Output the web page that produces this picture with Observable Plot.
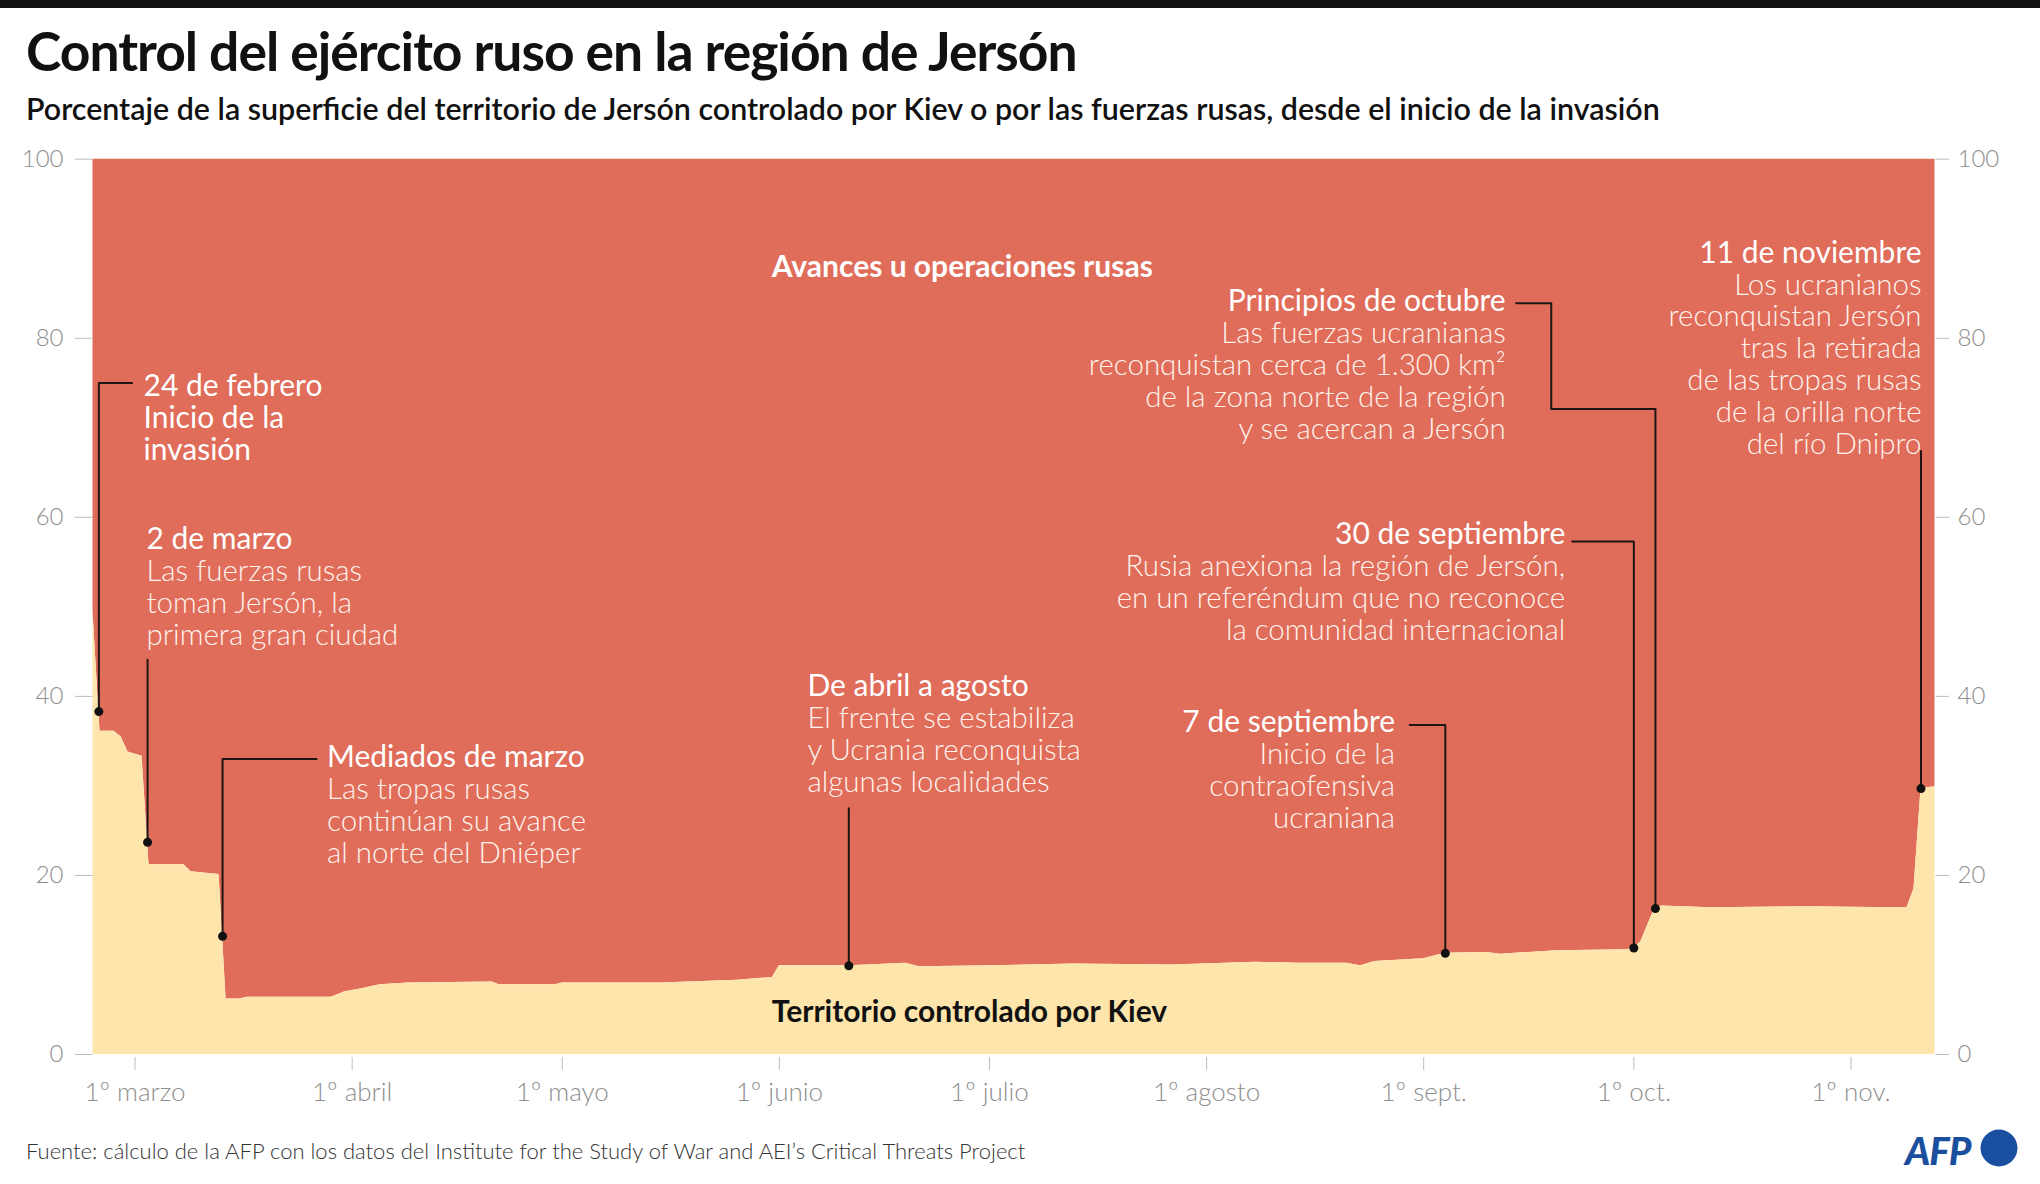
<!DOCTYPE html>
<html>
<head>
<meta charset="utf-8">
<script src="https://cdn.jsdelivr.net/npm/d3@7"></script>
<script src="https://cdn.jsdelivr.net/npm/@observablehq/plot@0.6"></script>
<style>
  html, body { margin: 0; padding: 0; background: #fff; }
  body { width: 2040px; height: 1184px; position: relative; overflow: hidden; font-family: Lato, sans-serif; }
  #topbar { position: absolute; left: 0; top: 0; width: 2040px; height: 8px; background: #111; }
  #title { position: absolute; left: 26px; top: 24.4px; font-size: 53.4px; font-weight: 700; line-height: 1; letter-spacing: -1px; color: #111; white-space: nowrap; }
  #subtitle { position: absolute; left: 26px; top: 93px; font-size: 30.4px; font-weight: 600; line-height: 1; color: #111; white-space: nowrap; }
  #chart { position: absolute; left: 0; top: 140px; }
  #footer { position: absolute; left: 26px; top: 1139.5px; font-size: 22px; font-weight: 300; line-height: 1; color: #333; white-space: nowrap; }
  #logo { position: absolute; left: 1900px; top: 1124px; }
</style>
</head>
<body>
<div id="topbar"></div>
<div id="title">Control del ejército ruso en la región de Jersón</div>
<div id="subtitle">Porcentaje de la superficie del territorio de Jersón controlado por Kiev o por las fuerzas rusas, desde el inicio de la invasión</div>
<div id="chart"></div>
<div id="footer">Fuente: cálculo de la AFP con los datos del Institute for the Study of War and AEI’s Critical Threats Project</div>
<svg id="logo" width="130" height="50">
  <text x="5" y="41" font-family="Lato" font-weight="900" font-style="italic" font-size="38.5" letter-spacing="-1" fill="#1a4f9f">AFP</text>
  <circle cx="99" cy="24" r="18.5" fill="#1a4f9f"></circle>
</svg>
<script>
// ---- data: share of Kherson region controlled by Kyiv (%) ----
const dates = [
  "2022-02-23","2022-02-24","2022-02-26","2022-02-27","2022-02-28","2022-03-02","2022-03-03",
  "2022-03-08","2022-03-09","2022-03-13","2022-03-14","2022-03-16","2022-03-17","2022-03-29",
  "2022-03-31","2022-04-02","2022-04-05","2022-04-09","2022-04-21","2022-04-22","2022-04-30",
  "2022-05-01","2022-05-15","2022-05-26","2022-05-31","2022-06-01","2022-06-11","2022-06-19",
  "2022-06-21","2022-07-01","2022-07-13","2022-07-27","2022-08-08","2022-08-14","2022-08-21",
  "2022-08-23","2022-08-25","2022-09-01","2022-09-04","2022-09-10","2022-09-12","2022-09-20",
  "2022-09-30","2022-10-01","2022-10-02","2022-10-03","2022-10-04","2022-10-05","2022-10-12",
  "2022-10-26","2022-11-07","2022-11-09","2022-11-10","2022-11-11","2022-11-13"
];
const kievShare = [
  49.4, 36.1, 36.1, 35.5, 33.8, 33.3, 21.2,
  21.2, 20.4, 20.1, 6.2, 6.2, 6.4, 6.4,
  7.0, 7.3, 7.8, 8.0, 8.1, 7.8, 7.8,
  8.0, 8.0, 8.3, 8.6, 9.9, 9.9, 10.2,
  9.8, 9.9, 10.1, 10.0, 10.3, 10.2, 10.2,
  9.9, 10.4, 10.7, 11.3, 11.4, 11.2, 11.6,
  11.7, 11.9, 12.6, 14.5, 16.3, 16.6, 16.4,
  16.5, 16.4, 16.4, 18.5, 29.7, 29.9
];

// ---- axis ticks ----
const yTicks = [0, 20, 40, 60, 80, 100];
const xTickDates = ["2022-03-01","2022-04-01","2022-05-01","2022-06-01","2022-07-01","2022-08-01","2022-09-01","2022-10-01","2022-11-01"];
const xTickLabels = ["1º marzo","1º abril","1º mayo","1º junio","1º julio","1º agosto","1º sept.","1º oct.","1º nov."];

// ---- area labels ----
const areaLabels = ["Avances u operaciones rusas", "Territorio controlado por Kiev"];
const areaLabelDates = ["2022-05-30T22:00Z", "2022-05-30T22:00Z"];
const areaLabelValues = [87.9, 4.7];

// ---- annotations ----
const annHeads = ["24 de febrero\nInicio de la\ninvasión", "2 de marzo", "Mediados de marzo", "De abril a agosto",
                  "7 de septiembre", "30 de septiembre", "Principios de octubre", "11 de noviembre"];
const annBodies = [
  "",
  "Las fuerzas rusas\ntoman Jersón, la\nprimera gran ciudad",
  "Las tropas rusas\ncontinúan su avance\nal norte del Dniéper",
  "El frente se estabiliza\ny Ucrania reconquista\nalgunas localidades",
  "Inicio de la\ncontraofensiva\nucraniana",
  "Rusia anexiona la región de Jersón,\nen un referéndum que no reconoce\nla comunidad internacional",
  "Las fuerzas ucranianas\nreconquistan cerca de 1.300 km²\nde la zona norte de la región\ny se acercan a Jersón",
  "Los ucranianos\nreconquistan Jersón\ntras la retirada\nde las tropas rusas\nde la orilla norte\ndel río Dnipro"
];
const annTextDates = ["2022-03-02T05:00Z","2022-03-02T15:00Z","2022-03-28T10:00Z","2022-06-05T00:00Z",
                      "2022-08-27T22:00Z","2022-09-21T05:00Z","2022-09-12T17:00Z","2022-11-11T02:00Z"];
const annTextValues = [76.1, 59.0, 34.7, 42.6, 38.6, 59.55, 85.6, 91.0];
const annSide = ["start","start","start","start","end","end","end","end"];

// event points on the frontier
const eventDates = ["2022-02-23T20:00Z","2022-03-02T19:00Z","2022-03-13T12:00Z","2022-06-10T22:00Z",
                    "2022-09-04T02:00Z","2022-10-01T00:00Z","2022-10-04T02:00Z","2022-11-11T00:00Z"];
const eventValues = [38.3, 23.7, 13.2, 9.9, 11.3, 11.9, 16.3, 29.7];
// leader elbows (after the event point), per event
const leaderElbows = [
  [["2022-02-23T20:00Z", 75.0], ["2022-02-28T14:00Z", 75.0]],
  [["2022-03-02T19:00Z", 44.1]],
  [["2022-03-13T12:00Z", 33.0], ["2022-03-26T22:00Z", 33.0]],
  [["2022-06-10T22:00Z", 27.5]],
  [["2022-09-04T02:00Z", 36.8], ["2022-08-30T00:00Z", 36.8]],
  [["2022-10-01T00:00Z", 57.3], ["2022-09-22T05:00Z", 57.3]],
  [["2022-10-04T02:00Z", 72.1], ["2022-09-19T05:00Z", 72.1], ["2022-09-19T05:00Z", 83.9], ["2022-09-14T05:00Z", 83.9]],
  [["2022-11-11T00:00Z", 67.4]]
];

// ---- build tables ----
const data = dates.map((d, i) => ({date: new Date(d), kiev: kievShare[i]}));
const anns = annHeads.map((h, i) => ({head: h, body: annBodies[i], date: new Date(annTextDates[i]), value: annTextValues[i], side: annSide[i]}));
const events = eventDates.map((d, i) => ({date: new Date(d), value: eventValues[i]}));
const leaders = [];
leaderElbows.forEach((pts, i) => {
  leaders.push({event: i, date: events[i].date, value: events[i].value});
  pts.forEach(([d, v]) => leaders.push({event: i, date: new Date(d), value: v}));
});
const areaLbls = areaLabels.map((t, i) => ({text: t, date: new Date(areaLabelDates[i]), value: areaLabelValues[i]}));

const RED = "#e06c5a";
const BEIGE = "#fde5ab";
const TXT = "#fff3ec";
const HEAD_FS = 30;
const BODY_FS = 29.5;
const STEP = 32;

const annMarks = [];
for (const side of ["start", "end"]) {
  const sub = anns.filter(a => a.side === side);
  annMarks.push(
    Plot.text(sub, {x: "date", y: "value", text: "head", textAnchor: side, lineAnchor: "top",
      lineHeight: STEP / HEAD_FS, fontSize: HEAD_FS, fontWeight: 400, fill: "#ffffff"}),
    Plot.text(sub.filter(a => a.body), {x: "date", y: "value", text: "body", textAnchor: side, lineAnchor: "top",
      lineHeight: STEP / BODY_FS, fontSize: BODY_FS, fontWeight: 300, fill: TXT, dy: STEP})
  );
}

const chart = Plot.plot({
  width: 2040,
  height: 990,
  marginTop: 18.7,
  marginBottom: 76,
  marginLeft: 92.5,
  marginRight: 105.5,
  style: {fontFamily: "Lato, sans-serif", background: "transparent", overflow: "visible"},
  x: {type: "utc", domain: [new Date("2022-02-23"), new Date("2022-11-13")]},
  y: {domain: [0, 100]},
  marks: [
    Plot.areaY(data, {x: "date", y1: d => d.kiev, y2: () => 100, fill: RED}),
    Plot.areaY(data, {x: "date", y1: () => 0, y2: d => d.kiev, fill: BEIGE}),
    Plot.axisY({anchor: "left", ticks: yTicks, tickSize: 17.5, tickPadding: 12, fontSize: 24, fontWeight: 300,
      stroke: "#bdbdbd", fill: "#8e8e8e", label: null}),
    Plot.axisY({anchor: "right", ticks: yTicks, tickSize: 13.5, tickPadding: 9, fontSize: 24, fontWeight: 300,
      stroke: "#bdbdbd", fill: "#8e8e8e", label: null}),
    Plot.axisX({ticks: xTickDates.map(d => new Date(d)), tickFormat: (d, i) => xTickLabels[i],
      tickSize: 13, tickPadding: 12, fontSize: 26, fontWeight: 300, stroke: "#bdbdbd", fill: "#8e8e8e", label: null, dy: 3}),
    Plot.line(leaders, {x: "date", y: "value", z: "event", stroke: "#1e1613", strokeWidth: 2, curve: "linear"}),
    Plot.dot(events, {x: "date", y: "value", r: 4.5, fill: "#111", stroke: "none"}),
    Plot.text(areaLbls.slice(0, 1), {x: "date", y: "value", text: "text", textAnchor: "start", lineAnchor: "middle",
      fontSize: 30, fontWeight: 700, fill: "#ffffff"}),
    Plot.text(areaLbls.slice(1), {x: "date", y: "value", text: "text", textAnchor: "start", lineAnchor: "middle",
      fontSize: 30, fontWeight: 700, fill: "#111"}),
    ...annMarks
  ]
});
document.getElementById("chart").appendChild(chart);
</script>
</body>
</html>
